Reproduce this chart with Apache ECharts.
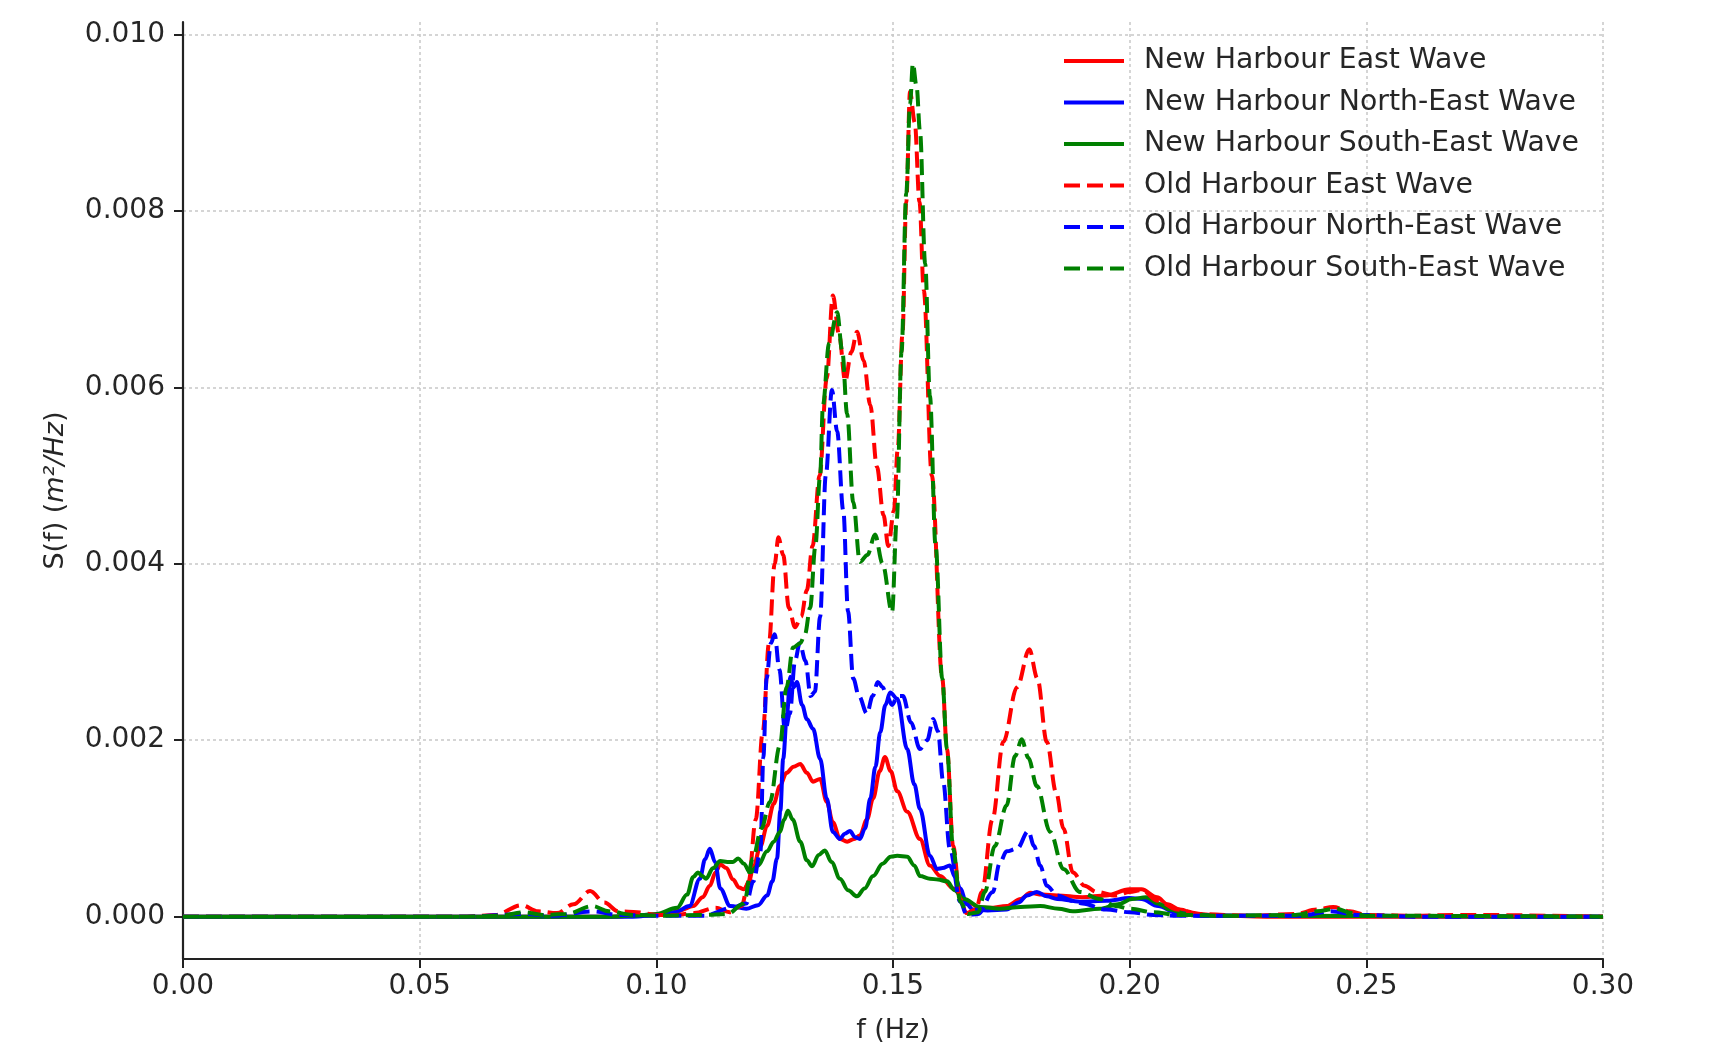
<!DOCTYPE html>
<html>
<head>
<meta charset="utf-8">
<script src="https://cdn.jsdelivr.net/npm/echarts@6/dist/echarts.min.js"></script>
<style>
html,body{margin:0;padding:0;background:#fff;}
#chart{width:1711px;height:1049px;}
</style>
</head>
<body>
<div id="chart"></div>
<script>
// ---- tick labels ----
const xTicks = [0, 0.05, 0.10, 0.15, 0.20, 0.25, 0.30];
const yTicks = [0, 0.002, 0.004, 0.006, 0.008, 0.010];

// ---- series names ----
const seriesNames = [
  'New Harbour East Wave',
  'New Harbour North-East Wave',
  'New Harbour South-East Wave',
  'Old Harbour East Wave',
  'Old Harbour North-East Wave',
  'Old Harbour South-East Wave'
];

// ---- values: [f (Hz), S(f) (m^2/Hz)] ----
const newHarbourEast = [
  [0,0],[0.09,0],[0.096,0.00001],[0.1,0.00002],[0.1023,0.00003],[0.105,0.00007],[0.1078,0.00012],
  [0.1098,0.00022],[0.1113,0.00035],[0.1125,0.0005],[0.1135,0.00059],[0.1148,0.00055],[0.1162,0.00042],
  [0.1175,0.00033],[0.1185,0.00031],[0.1195,0.00038],[0.1204,0.00054],[0.122,0.0008],[0.1234,0.00103],
  [0.1248,0.00128],[0.1261,0.00148],[0.1275,0.00163],[0.129,0.0017],[0.1304,0.00173],[0.1318,0.00163],
  [0.1331,0.00153],[0.1346,0.00156],[0.136,0.0013],[0.1373,0.00107],[0.1388,0.00088],[0.1403,0.00085],
  [0.1418,0.00088],[0.143,0.00092],[0.1445,0.0011],[0.1458,0.00134],[0.1472,0.00165],[0.1483,0.00181],
  [0.1495,0.00165],[0.1509,0.00142],[0.153,0.00119],[0.1557,0.00088],[0.1578,0.00058],[0.16,0.00046],
  [0.1627,0.00032],[0.1656,0.00017],[0.1684,0.0001],[0.1705,0.0001],[0.174,0.00012],[0.177,0.0002],
  [0.179,0.00027],[0.1815,0.00025],[0.1847,0.00024],[0.19,0.00022],[0.195,0.00024],[0.2,0.00031],
  [0.2025,0.00031],[0.2058,0.00022],[0.208,0.00014],[0.2106,0.00008],[0.214,0.00003],[0.22,0.00001],
  [0.23,0],[0.3,0]
];
const newHarbourNorthEast = [
  [0,0],[0.095,0],[0.1,0.00002],[0.104,0.00005],[0.107,0.00012],[0.1092,0.00043],[0.1103,0.00065],
  [0.1113,0.00077],[0.1124,0.00062],[0.1135,0.00032],[0.1156,0.00012],[0.119,0.00009],[0.1215,0.00013],
  [0.1234,0.00024],[0.1245,0.0004],[0.1255,0.00066],[0.1262,0.0012],[0.1268,0.00179],[0.1276,0.0023],
  [0.1283,0.00272],[0.129,0.0026],[0.1297,0.00266],[0.1308,0.0024],[0.1318,0.00224],[0.1331,0.00213],
  [0.1346,0.00179],[0.136,0.00134],[0.1373,0.00096],[0.1388,0.00088],[0.1398,0.00094],[0.1409,0.00097],
  [0.142,0.0009],[0.143,0.00088],[0.1441,0.001],[0.1452,0.00134],[0.1463,0.0017],[0.1473,0.00209],
  [0.1484,0.0024],[0.1494,0.00254],[0.1509,0.00247],[0.153,0.0019],[0.1545,0.0015],[0.1557,0.00122],
  [0.1578,0.00069],[0.1593,0.00054],[0.1605,0.00055],[0.162,0.00058],[0.1631,0.00045],[0.1642,0.00032],
  [0.1656,0.00014],[0.1669,0.00008],[0.17,0.00007],[0.174,0.00008],[0.1765,0.00016],[0.1783,0.00024],
  [0.1804,0.00028],[0.1825,0.00023],[0.1847,0.0002],[0.1895,0.00017],[0.1952,0.00018],[0.2,0.00021],
  [0.2025,0.0002],[0.206,0.00012],[0.21,0.00004],[0.215,0.00001],[0.3,0]
];
const newHarbourSouthEast = [
  [0,0],[0.09,0],[0.095,0.00001],[0.1,0.00003],[0.1044,0.0001],[0.1065,0.00025],[0.1078,0.00045],
  [0.1088,0.0005],[0.1097,0.00046],[0.1105,0.00043],[0.112,0.00055],[0.1135,0.00063],[0.115,0.00062],
  [0.1162,0.00062],[0.1173,0.00066],[0.1185,0.0006],[0.1198,0.0005],[0.1215,0.00058],[0.1234,0.00074],
  [0.1248,0.00085],[0.1261,0.00096],[0.127,0.0011],[0.1278,0.0012],[0.1288,0.0011],[0.1304,0.00085],
  [0.1318,0.00064],[0.1329,0.00057],[0.1343,0.0007],[0.1356,0.00075],[0.137,0.00062],[0.1388,0.00043],
  [0.1405,0.0003],[0.1424,0.00023],[0.144,0.00032],[0.1458,0.00046],[0.1478,0.0006],[0.1495,0.00068],
  [0.1509,0.00069],[0.153,0.00068],[0.1545,0.00058],[0.1557,0.00046],[0.1578,0.00043],[0.1595,0.00042],
  [0.1614,0.0004],[0.163,0.0003],[0.165,0.0002],[0.1684,0.00011],[0.1726,0.00009],[0.177,0.00011],
  [0.1811,0.00012],[0.185,0.00009],[0.188,0.00006],[0.1937,0.00009],[0.1975,0.00014],[0.2005,0.0002],
  [0.2035,0.00022],[0.206,0.00015],[0.2085,0.00008],[0.212,0.00003],[0.22,0.00001],[0.3,0]
];
const oldHarbourEast = [
  [0,0],[0.06,0],[0.066,0.00002],[0.0715,0.00013],[0.075,0.00006],[0.079,0.00004],[0.0825,0.00014],
  [0.086,0.00029],[0.089,0.00016],[0.092,0.00006],[0.096,0.00005],[0.1,0.00002],[0.104,0.00002],
  [0.108,0.00004],[0.1125,0.0001],[0.1155,0.00005],[0.118,0.00012],[0.1195,0.0004],[0.121,0.0011],
  [0.1225,0.0021],[0.1238,0.0031],[0.125,0.004],[0.1258,0.0043],[0.1268,0.0041],[0.128,0.0035],
  [0.1293,0.00328],[0.1306,0.0034],[0.1318,0.0037],[0.133,0.0042],[0.1345,0.005],[0.136,0.0061],
  [0.1373,0.00704],[0.1386,0.0066],[0.1399,0.00607],[0.1412,0.0064],[0.1424,0.00663],[0.1438,0.0063],
  [0.1452,0.0058],[0.1466,0.0051],[0.148,0.00455],[0.149,0.0042],[0.1502,0.0046],[0.151,0.0053],
  [0.152,0.0066],[0.1528,0.0081],[0.1536,0.00935],[0.1546,0.009],[0.1556,0.0081],[0.1565,0.0071],
  [0.1582,0.005],[0.1604,0.0027],[0.1614,0.0019],[0.1627,0.0008],[0.1642,0.0002],[0.1655,0.00004],
  [0.1675,0.00008],[0.1688,0.00028],[0.171,0.0011],[0.1733,0.00198],[0.1762,0.0026],[0.1788,0.00303],
  [0.1805,0.0027],[0.1825,0.00198],[0.1845,0.0014],[0.186,0.001],[0.188,0.0005],[0.1905,0.00035],
  [0.193,0.00028],[0.197,0.00024],[0.2,0.00028],[0.2025,0.0003],[0.206,0.00018],[0.21,0.00008],
  [0.215,0.00003],[0.225,0.00001],[0.235,0.00003],[0.2395,0.00008],[0.243,0.00011],[0.2465,0.00006],
  [0.25,0.00002],[0.26,0.00001],[0.27,0.00002],[0.3,0]
];
const oldHarbourNorthEast = [
  [0,0],[0.06,0],[0.072,0.00003],[0.078,0.00001],[0.0865,0.00006],[0.092,0.00002],[0.1,0.00001],
  [0.11,0.00001],[0.116,0.0001],[0.119,0.00015],[0.1205,0.0004],[0.122,0.00074],[0.1226,0.0018],
  [0.1233,0.0027],[0.1242,0.0031],[0.125,0.0032],[0.126,0.0028],[0.1272,0.0021],[0.1282,0.0023],
  [0.1293,0.0029],[0.1303,0.0031],[0.1315,0.0029],[0.1326,0.0025],[0.1335,0.00255],[0.1346,0.0034],
  [0.1358,0.005],[0.1371,0.00597],[0.1382,0.0055],[0.1395,0.0046],[0.1405,0.00346],[0.1416,0.0027],
  [0.1428,0.0025],[0.1445,0.0023],[0.1457,0.0025],[0.1468,0.00266],[0.1478,0.0026],[0.1487,0.0025],
  [0.1498,0.0024],[0.151,0.0025],[0.1521,0.0025],[0.1538,0.0022],[0.1557,0.0019],[0.1572,0.002],
  [0.1585,0.00224],[0.1595,0.0021],[0.1606,0.00153],[0.162,0.00077],[0.1642,0.00017],[0.1656,0.00002],
  [0.168,0.00003],[0.1711,0.00028],[0.1725,0.0006],[0.174,0.00074],[0.1762,0.00077],[0.1786,0.00097],
  [0.1798,0.0008],[0.1811,0.00058],[0.1825,0.00035],[0.1847,0.00024],[0.188,0.00018],[0.19,0.00015],
  [0.195,0.00008],[0.2,0.00005],[0.205,0.00002],[0.21,0.00001],[0.236,0.00001],[0.2425,0.00006],
  [0.248,0.00002],[0.26,0],[0.3,0]
];
const oldHarbourSouthEast = [
  [0,0],[0.06,0],[0.067,0.00001],[0.072,0.00005],[0.076,0.00002],[0.081,0.00003],[0.0865,0.00012],
  [0.09,0.00006],[0.095,0.00002],[0.1,0.00001],[0.11,0.00002],[0.115,0.00003],[0.1185,0.00015],
  [0.1204,0.00066],[0.1222,0.001],[0.124,0.0013],[0.1261,0.00194],[0.1275,0.0026],[0.1289,0.00305],
  [0.1304,0.0031],[0.1314,0.0032],[0.1325,0.0035],[0.1336,0.0042],[0.1346,0.005],[0.1352,0.0058],
  [0.1365,0.0065],[0.1382,0.00685],[0.1393,0.0064],[0.1403,0.0057],[0.1416,0.0047],[0.143,0.00402],
  [0.1446,0.0041],[0.1462,0.00433],[0.1478,0.004],[0.1498,0.00345],[0.1508,0.0045],[0.1518,0.0064],
  [0.1528,0.0082],[0.1536,0.0092],[0.1542,0.00967],[0.155,0.0094],[0.1557,0.0089],[0.1568,0.0074],
  [0.1578,0.0059],[0.159,0.0042],[0.1604,0.0027],[0.1614,0.0019],[0.1627,0.00077],[0.1642,0.00017],
  [0.1658,0.00003],[0.168,0.00005],[0.1694,0.00028],[0.1715,0.0008],[0.174,0.00126],[0.1758,0.00182],
  [0.1772,0.00201],[0.1786,0.0018],[0.1804,0.00148],[0.1832,0.00096],[0.186,0.00054],[0.1895,0.00028],
  [0.1937,0.0002],[0.197,0.00012],[0.2,0.00009],[0.205,0.00005],[0.21,0.00002],[0.22,0.00001],
  [0.235,0.00002],[0.2395,0.00006],[0.2435,0.00009],[0.247,0.00004],[0.25,0.00001],[0.3,0]
];

const seriesData = [newHarbourEast, newHarbourNorthEast, newHarbourSouthEast,
                    oldHarbourEast, oldHarbourNorthEast, oldHarbourSouthEast];
const seriesColors = ['#ff0000', '#0000ff', '#008000', '#ff0000', '#0000ff', '#008000'];
const seriesDashed = [false, false, false, true, true, true];

const FONT = 'DejaVu Sans';
const TXT = '#262626';
const LW = 4;

const chart = echarts.init(document.getElementById('chart'), null, {renderer: 'canvas'});

const series = seriesNames.map((name, i) => ({
  name: name,
  type: 'line',
  data: seriesData[i],
  showSymbol: false,
  symbol: 'none',
  smooth: 0.35,
  smoothMonotone: 'x',
  animation: false,
  color: seriesColors[i],
  lineStyle: {
    color: seriesColors[i],
    width: LW,
    type: seriesDashed[i] ? [16, 7] : 'solid',
    cap: 'butt'
  },
  z: 2 + i
}));

chart.setOption({
  backgroundColor: '#ffffff',
  animation: false,
  grid: {left: 183, right: 108, top: 22, bottom: 89, containLabel: false},
  legend: {
    orient: 'vertical',
    left: 1057,
    top: 41,
    itemWidth: 60,
    itemHeight: 14,
    itemGap: 11.5,
    data: seriesNames,
    itemStyle: {opacity: 0, color: 'rgba(0,0,0,0)', borderWidth: 0},
    lineStyle: {width: LW},
    textStyle: {fontFamily: FONT, fontSize: 28.3, color: TXT, lineHeight: 30, padding: [0, 0, 0, 15]}
  },
  xAxis: {
    type: 'value',
    min: 0,
    max: 0.30,
    interval: 0.05,
    name: 'f (Hz)',
    nameLocation: 'middle',
    nameGap: 58,
    nameTextStyle: {fontFamily: FONT, fontSize: 27, color: TXT},
    axisLine: {show: true, onZero: false, lineStyle: {color: '#222', width: 2.2}},
    axisTick: {show: true, length: 9, lineStyle: {color: '#222', width: 2}},
    axisLabel: {
      margin: 14, fontFamily: FONT, fontSize: 28, color: TXT,
      formatter: v => v.toFixed(2)
    },
    splitLine: {show: true, lineStyle: {color: '#c8c8c8', width: 1.5, type: [3, 3]}}
  },
  yAxis: {
    type: 'value',
    min: -0.00048,
    max: 0.01014,
    name: '{n|S(f) (}{i|m²/Hz}{n|)}',
    nameLocation: 'middle',
    nameGap: 114,
    nameRotate: 90,
    nameTextStyle: {
      color: TXT,
      rich: {
        n: {fontFamily: FONT, fontSize: 27, color: TXT},
        i: {fontFamily: FONT, fontSize: 27, fontStyle: 'italic', color: TXT}
      }
    },
    axisLine: {show: true, onZero: false, lineStyle: {color: '#222', width: 2.2}},
    axisTick: {show: true, length: 9, customValues: yTicks, lineStyle: {color: '#222', width: 2}},
    axisLabel: {
      customValues: yTicks,
      margin: 18, fontFamily: FONT, fontSize: 28, color: TXT,
      formatter: v => v.toFixed(3)
    },
    splitLine: {show: true, lineStyle: {color: '#c8c8c8', width: 1.5, type: [3, 3]}}
  },
  series: series
});
</script>
</body>
</html>
